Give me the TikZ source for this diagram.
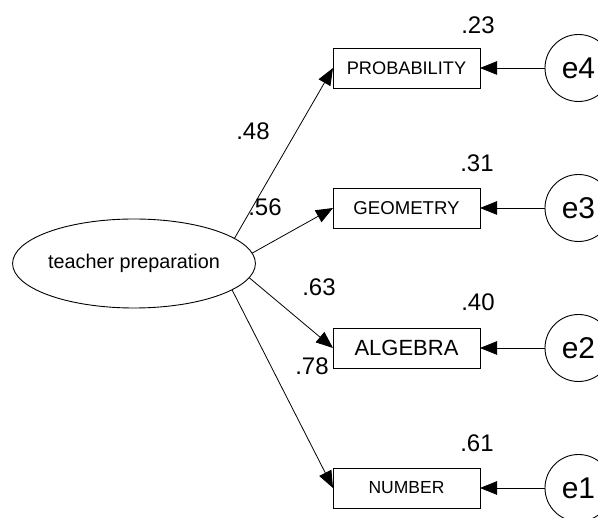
\documentclass[tikz,border=0pt]{standalone}
\usepackage{fontspec}
\setmainfont{Liberation Sans}
\usetikzlibrary{shapes.geometric,arrows.meta}
\begin{document}
\begin{tikzpicture}[x=1pt,y=-1pt,
  obs/.style={draw, line width=0.9pt, minimum width=147pt, minimum height=40pt,
              inner sep=0pt, outer sep=0pt},
  err/.style={draw, circle, line width=0.9pt, minimum size=67pt, inner sep=0pt,
              outer sep=0pt, font=\fontsize{30}{30}\selectfont},
  lat/.style={draw, ellipse, line width=0.9pt, minimum width=240pt, minimum height=89pt,
              inner sep=0pt, outer sep=0pt, font=\fontsize{19.8}{20}\selectfont},
  coef/.style={inner sep=0pt, font=\fontsize{24}{24}\selectfont},
  load/.style={line width=0.8pt, -{Triangle[length=17pt,width=13.5pt]}},
]
\useasboundingbox (0,0) rectangle (598,518);
\clip (0,0) rectangle (598,518);

% latent factor
\node[lat] (tp) at (134,263.5) {teacher preparation};

% observed indicators
\node[obs, font=\fontsize{18.2}{18}\selectfont] (prob) at (406.5,68)  {PROBABILITY};
\node[obs, font=\fontsize{18.6}{18}\selectfont] (geom) at (406.5,208) {GEOMETRY};
\node[obs, font=\fontsize{22}{22}\selectfont]   (alg)  at (406.5,348) {ALGEBRA};
\node[obs, font=\fontsize{17.5}{18}\selectfont] (num)  at (406.5,488) {NUMBER};

% error terms
\node[err] (e4) at (578.5,68)  {e4};
\node[err] (e3) at (578.5,208) {e3};
\node[err] (e2) at (578.5,348) {e2};
\node[err] (e1) at (578.5,488) {e1};

% factor loadings
\draw[load] (tp.14.2)  -- (prob.west);
\draw[load] (tp.5.1)   -- (geom.west);
\draw[load] (tp.-7.2)  -- (alg.west);
\draw[load] (tp.-15.1) -- (num.west);

% error paths
\draw[load] (e4) -- (prob);
\draw[load] (e3) -- (geom);
\draw[load] (e2) -- (alg);
\draw[load] (e1) -- (num);

% standardized loadings
\node[coef] (l4) at (253,131) {.48};
\node[coef] (l3) at (265,207.5) {.56};
\node[coef] (l2) at (319,287) {.63};
\node[coef] (l1) at (312,366.5) {.78};

% squared multiple correlations
\node[coef] (r4) at (478,25)  {.23};
\node[coef] (r3) at (477,163) {.31};
\node[coef] (r2) at (478,302) {.40};
\node[coef] (r1) at (477,443) {.61};
\end{tikzpicture}
\end{document}
